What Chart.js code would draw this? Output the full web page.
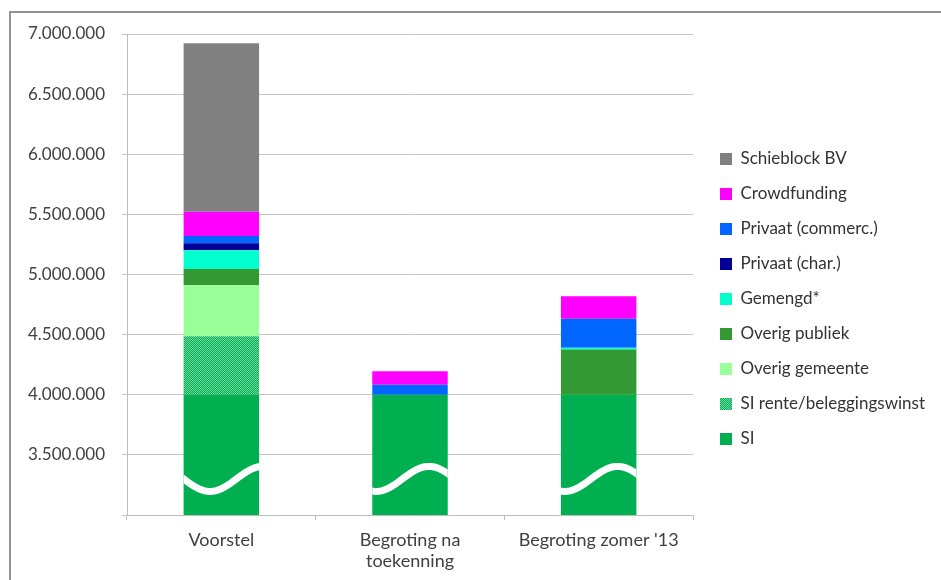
<!DOCTYPE html>
<html>
<head>
<meta charset="utf-8">
<script src="https://cdn.jsdelivr.net/npm/chart.js@4/dist/chart.umd.min.js"></script>
<style>
  html, body { margin: 0; padding: 0; background: #fff; }
  #wrap { position: relative; width: 941px; height: 580px; overflow: hidden; }
  #wrap canvas { position: absolute; left: 0; top: 0; }
  #frame { position: absolute; left: 9px; top: 11px; width: 1000px; height: 1000px;
           border-top: 2px solid #939393; border-left: 2px solid #939393; pointer-events: none; }
</style>
</head>
<body>
<div id="wrap">
  <canvas id="chart" width="941" height="580"></canvas>
  <div id="frame"></div>
</div>
<script>
// Funding sources per budget version (euro), stacked bottom to top
const categories = ['Voorstel', ['Begroting na', 'toekenning'], "Begroting zomer '13"];

const si               = [4000000, 4000000, 4000000];
const siRente          = [487000, null, null];
const overigGemeente   = [423000, null, null];
const overigPubliek    = [136000, null, 376000];
const gemengd          = [156000, null, 15000];
const privaatChar      = [58000, null, null];
const privaatCommerc   = [61000, 83000, 241000];
const crowdfunding     = [200000, 113000, 188000];
const schieblock       = [1402000, null, null];

const yMin = 3000000;
const yMax = 7000000;
const yStep = 500000;

// Dotted fill for the interest / investment gain segment
function dotPattern() {
  const tile = document.createElement('canvas');
  tile.width = 2; tile.height = 2;
  const g = tile.getContext('2d');
  g.fillStyle = '#00B050';
  g.fillRect(0, 0, 2, 2);
  g.fillStyle = '#74d9a0';
  g.fillRect(0, 0, 1, 1);
  g.fillRect(1, 1, 1, 1);
  return g.createPattern(tile, 'repeat');
}

function formatEuro(v) {
  return String(Math.round(v)).replace(/\B(?=(\d{3})+(?!\d))/g, '.');
}

const FONT = 'Lato, "Open Sans", sans-serif';

// White wavy "axis break" across the SI bars
const breakLevel = 3300000;
const breakPhase = [0.35, 0.05, 0.05];
const axisBreak = {
  id: 'axisBreak',
  afterDatasetsDraw(chart) {
    const meta = chart.getDatasetMeta(0);
    const yc = chart.scales.y.getPixelForValue(breakLevel);
    const ctx = chart.ctx;
    ctx.save();
    ctx.strokeStyle = '#ffffff';
    ctx.lineWidth = 7;
    meta.data.forEach((bar, i) => {
      const { x, width } = bar.getProps(['x', 'width'], true);
      const left = x - width / 2;
      ctx.save();
      ctx.beginPath();
      ctx.rect(left, yc - 40, width, 80);
      ctx.clip();
      ctx.beginPath();
      for (let k = -2; k <= 52; k++) {
        const t = k / 50;
        const px = left + t * width;
        const py = yc + 12.5 * Math.cos(Math.PI * (t - breakPhase[i]) / 0.7);
        if (k === -2) ctx.moveTo(px, py); else ctx.lineTo(px, py);
      }
      ctx.stroke();
      ctx.restore();
    });
    ctx.restore();
  }
};

// Legend column sits to the right of the plot
const legendPlacement = {
  id: 'legendPlacement',
  afterInit(chart) {
    const lg = chart.legend;
    const fit = lg.fit.bind(lg);
    lg.fit = function () { fit(); this.width = 248; };
  },
  afterLayout(chart) {
    const lg = chart.legend;
    lg.left = 702;
    lg.right = 941;
    lg.top = 18;
    lg.bottom = 580;
  }
};

const ds = (label, data, color) => ({ label, data, backgroundColor: color, borderWidth: 0 });

new Chart(document.getElementById('chart'), {
  type: 'bar',
  data: {
    labels: categories,
    datasets: [
      ds('SI', si, '#00B050'),
      ds('SI rente/beleggingswinst', siRente, dotPattern()),
      ds('Overig gemeente', overigGemeente, '#99FF99'),
      ds('Overig publiek', overigPubliek, '#339933'),
      ds('Gemengd*', gemengd, '#00FFCC'),
      ds('Privaat (char.)', privaatChar, '#000099'),
      ds('Privaat (commerc.)', privaatCommerc, '#0066FF'),
      ds('Crowdfunding', crowdfunding, '#FF00FF'),
      ds('Schieblock BV', schieblock, '#808080')
    ]
  },
  options: {
    responsive: false,
    animation: false,
    devicePixelRatio: 1,
    categoryPercentage: 1,
    barPercentage: 0.4,
    layout: { padding: { top: 34, left: 0, right: 0, bottom: 0 } },
    plugins: {
      tooltip: { enabled: false },
      legend: {
        position: 'right',
        reverse: true,
        labels: {
          boxWidth: 12,
          boxHeight: 12,
          padding: 18,
          color: '#333333',
          font: { family: FONT, size: 17 }
        }
      }
    },
    scales: {
      x: {
        stacked: true,
        grid: { drawOnChartArea: false, tickLength: 5, color: '#bdbdbd', offset: true },
        border: { color: '#bdbdbd' },
        ticks: { color: '#404040', padding: 9, font: { family: FONT, size: 18 } },
        afterFit(scale) { scale.height = 65; }
      },
      y: {
        stacked: true,
        min: yMin,
        max: yMax,
        grid: { color: '#c4c4c4', tickLength: 5 },
        border: { color: '#bdbdbd' },
        ticks: {
          stepSize: yStep,
          padding: 17,
          color: '#404040',
          font: { family: FONT, size: 17 },
          callback: (v) => (v === yMin ? '' : formatEuro(v))
        },
        afterFit(scale) { scale.width = 127; }
      }
    }
  },
  plugins: [axisBreak, legendPlacement]
});
</script>
</body>
</html>
